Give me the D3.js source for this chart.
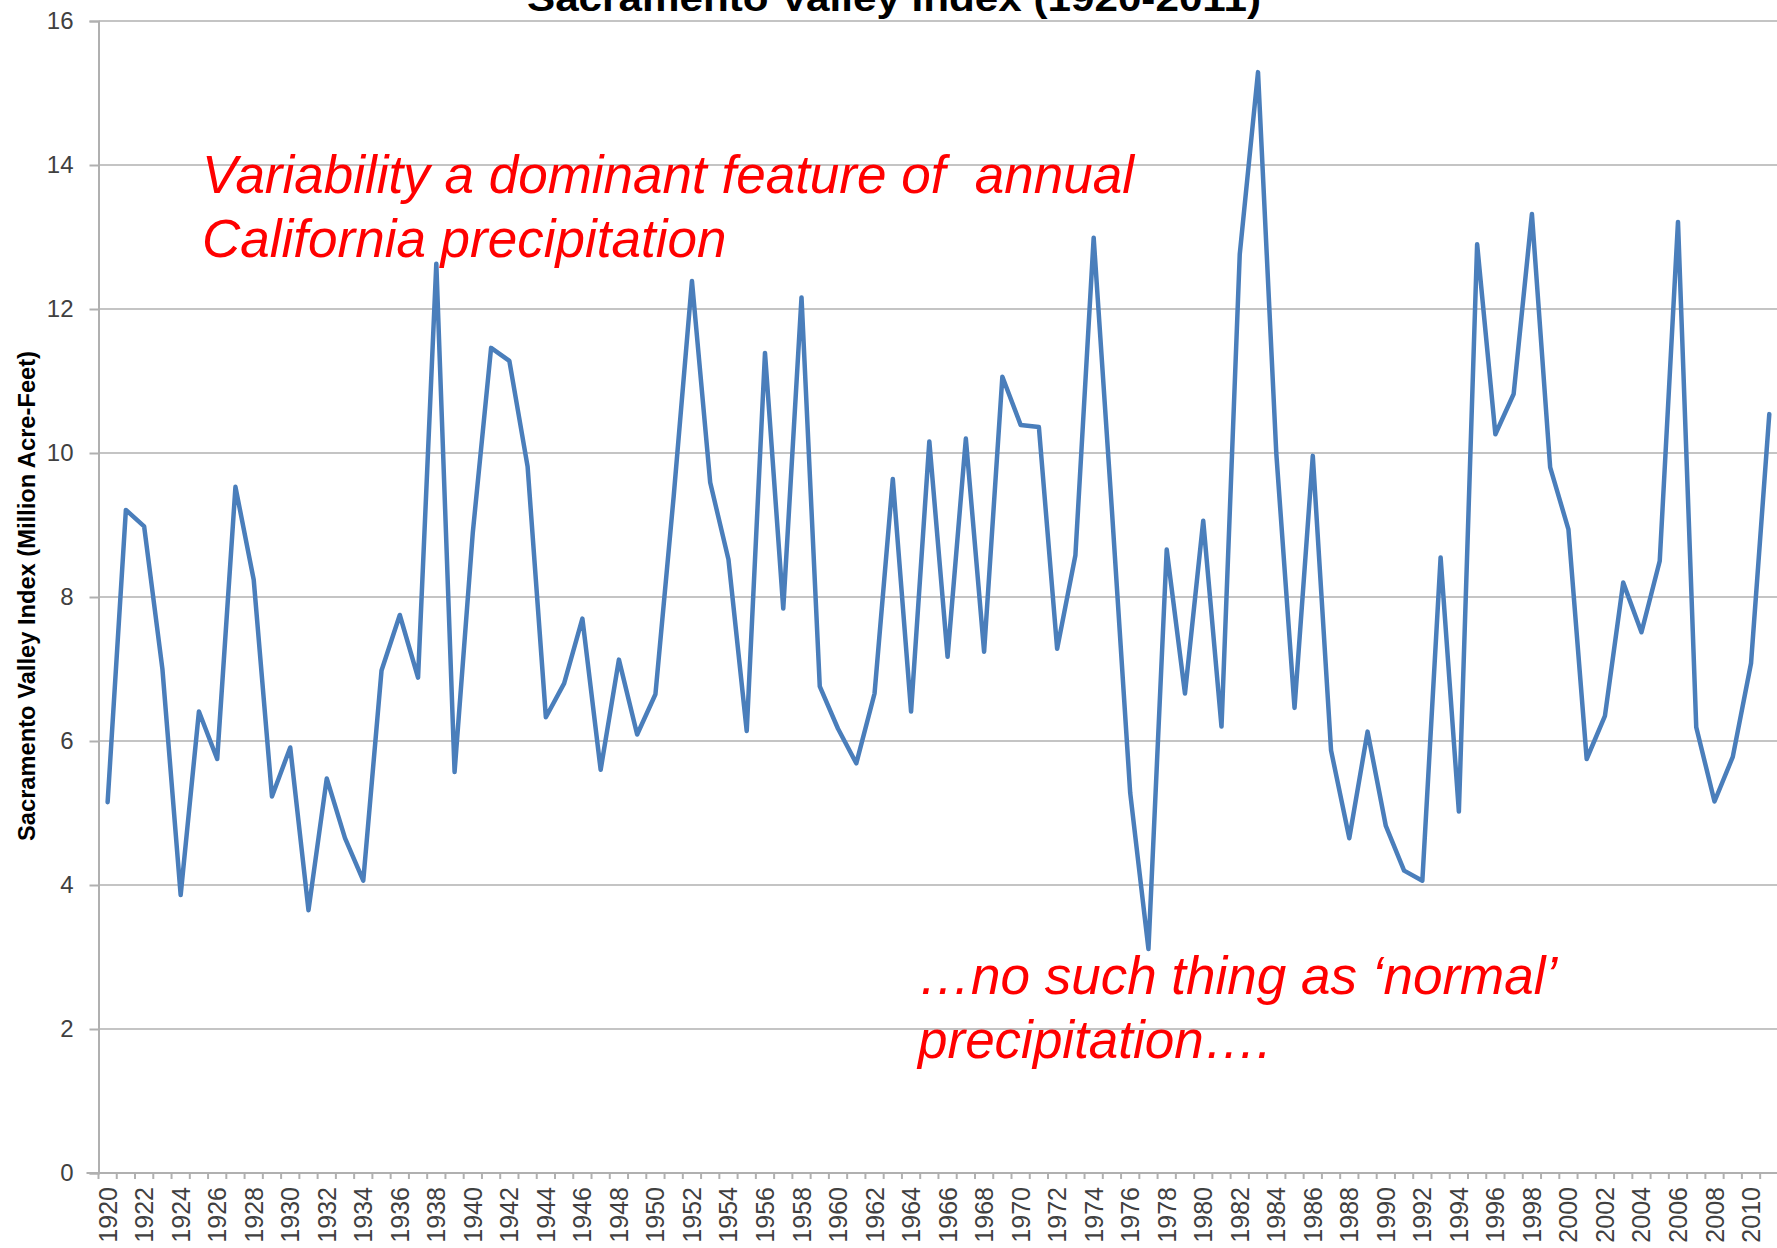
<!DOCTYPE html>
<html>
<head>
<meta charset="utf-8">
<script src="https://cdn.jsdelivr.net/npm/d3@7"></script>
<style>
  html, body { margin: 0; padding: 0; background: #ffffff; }
  svg { display: block; }
</style>
</head>
<body>
<script>
// ---- Data ----
const years = [1920,1921,1922,1923,1924,1925,1926,1927,1928,1929,
  1930,1931,1932,1933,1934,1935,1936,1937,1938,1939,
  1940,1941,1942,1943,1944,1945,1946,1947,1948,1949,
  1950,1951,1952,1953,1954,1955,1956,1957,1958,1959,
  1960,1961,1962,1963,1964,1965,1966,1967,1968,1969,
  1970,1971,1972,1973,1974,1975,1976,1977,1978,1979,
  1980,1981,1982,1983,1984,1985,1986,1987,1988,1989,
  1990,1991,1992,1993,1994,1995,1996,1997,1998,1999,
  2000,2001,2002,2003,2004,2005,2006,2007,2008,2009,
  2010,2011];
const indexValues = [5.15,9.21,8.98,7.0,3.86,6.41,5.75,9.53,8.24,5.23,
  5.91,3.65,5.48,4.65,4.06,6.98,7.75,6.88,12.63,5.57,
  8.9,11.46,11.28,9.81,6.33,6.8,7.7,5.6,7.13,6.09,
  6.65,9.4,12.39,9.59,8.52,6.14,11.39,7.84,12.16,6.76,
  6.17,5.69,6.66,9.64,6.41,10.16,7.17,10.2,7.24,11.06,
  10.39,10.36,7.28,8.58,12.99,9.2,5.28,3.11,8.66,6.66,
  9.06,6.2,12.76,15.29,10.0,6.46,9.96,5.87,4.65,6.13,
  4.82,4.2,4.06,8.55,5.02,12.9,10.26,10.82,13.32,9.8,
  8.94,5.75,6.35,8.2,7.51,8.5,13.21,6.19,5.16,5.78,
  7.08,10.54];
const yTicks = [0,2,4,6,8,10,12,14,16];
const xTickLabels = [1920,1922,1924,1926,1928,1930,1932,1934,1936,1938,
  1940,1942,1944,1946,1948,1950,1952,1954,1956,1958,
  1960,1962,1964,1966,1968,1970,1972,1974,1976,1978,
  1980,1982,1984,1986,1988,1990,1992,1994,1996,1998,
  2000,2002,2004,2006,2008,2010];
const chartTitle = "Sacramento Valley Index (1920-2011)";
const yAxisTitle = "Sacramento Valley Index (Million Acre-Feet)";
const note1 = ["Variability a dominant feature of  annual", "California precipitation"];
const note2 = ["\u2026no such thing as \u2018normal\u2019", "precipitation\u2026."];

// ---- Layout ----
const W = 1777, H = 1248;
const left = 98.5, bandW = 18.26;
const yTop = 21, yBottom = 1173;

const svg = d3.select("body").append("svg")
  .attr("width", W).attr("height", H)
  .style("font-family", "'Liberation Sans', Arial, sans-serif");

const x = d3.scaleBand().domain(years).range([left, left + bandW * years.length]).padding(0);
const y = d3.scaleLinear().domain([0, 16]).range([yBottom, yTop]);

// gridlines
svg.append("g").selectAll("line").data(yTicks.filter(d => d > 0)).join("line")
  .attr("x1", left).attr("x2", W)
  .attr("y1", d => y(d)).attr("y2", d => y(d))
  .attr("stroke", "#c4c4c4").attr("stroke-width", 2);

// Y axis
const yAxis = d3.axisLeft(y).tickValues(yTicks).tickSize(9).tickPadding(16).tickFormat(d3.format("d"));
const gy = svg.append("g").attr("transform", `translate(${left},0)`).call(yAxis);
gy.attr("font-size", null).attr("font-family", null);
gy.select(".domain").attr("stroke", "#b0b0b0").attr("stroke-width", 2);
gy.selectAll(".tick line").attr("stroke", "#b0b0b0").attr("stroke-width", 2);
gy.selectAll(".tick text").style("font-size", "24px").attr("fill", "#404040")
  .style("font-family", "'Liberation Sans', Arial, sans-serif");

// X axis
const xAxis = d3.axisBottom(x).tickSize(0).tickFormat(d => xTickLabels.includes(d) ? d : "");
const gx = svg.append("g").attr("transform", `translate(0,${yBottom})`).call(xAxis);
gx.attr("font-size", null).attr("font-family", null);
gx.select(".domain").remove();
svg.append("line").attr("x1", left - 12).attr("x2", W)
  .attr("y1", yBottom).attr("y2", yBottom)
  .attr("stroke", "#b0b0b0").attr("stroke-width", 2);
// ticks between categories
svg.append("g").selectAll("line").data(years).join("line")
  .attr("x1", d => x(d)).attr("x2", d => x(d))
  .attr("y1", yBottom).attr("y2", yBottom + 6)
  .attr("stroke", "#b0b0b0").attr("stroke-width", 2);
gx.selectAll(".tick text")
  .style("font-size", "25px").attr("fill", "#404040")
  .style("font-family", "'Liberation Sans', Arial, sans-serif")
  .attr("transform", "rotate(-90)")
  .attr("text-anchor", "end")
  .attr("x", -14).attr("y", 0).attr("dy", "0.36em");

// line
const line = d3.line().x((d, i) => x(years[i]) + x.bandwidth() / 2).y(d => y(d));
svg.append("path").datum(indexValues)
  .attr("d", line).attr("fill", "none")
  .attr("stroke", "#4a7ebb").attr("stroke-width", 4.5)
  .attr("stroke-linejoin", "round").attr("stroke-linecap", "round");

// title (cropped at top)
svg.append("text").attr("x", 894).attr("y", 11)
  .attr("text-anchor", "middle").attr("font-weight", "bold")
  .attr("font-size", 36).attr("fill", "#000")
  .attr("textLength", 734).attr("lengthAdjust", "spacingAndGlyphs")
  .text(chartTitle);

// y axis title
svg.append("text")
  .attr("transform", "translate(35,596) rotate(-90)")
  .attr("text-anchor", "middle").attr("font-weight", "bold")
  .attr("font-size", 23).attr("fill", "#000")
  .attr("textLength", 490).attr("lengthAdjust", "spacingAndGlyphs")
  .text(yAxisTitle);

// annotations
const noteStyle = s => s.attr("fill", "#ff0000").attr("font-style", "italic")
  .attr("font-size", 53).attr("font-family", "Arial, 'Liberation Sans', sans-serif")
  .style("white-space", "pre");
svg.append("text").attr("x", 202).attr("y", 193).call(noteStyle).text(note1[0]);
svg.append("text").attr("x", 202).attr("y", 257).call(noteStyle).text(note1[1]);
svg.append("text").attr("x", 918).attr("y", 994).call(noteStyle).text(note2[0]);
svg.append("text").attr("x", 918).attr("y", 1058).call(noteStyle).text(note2[1]);
</script>
</body>
</html>
